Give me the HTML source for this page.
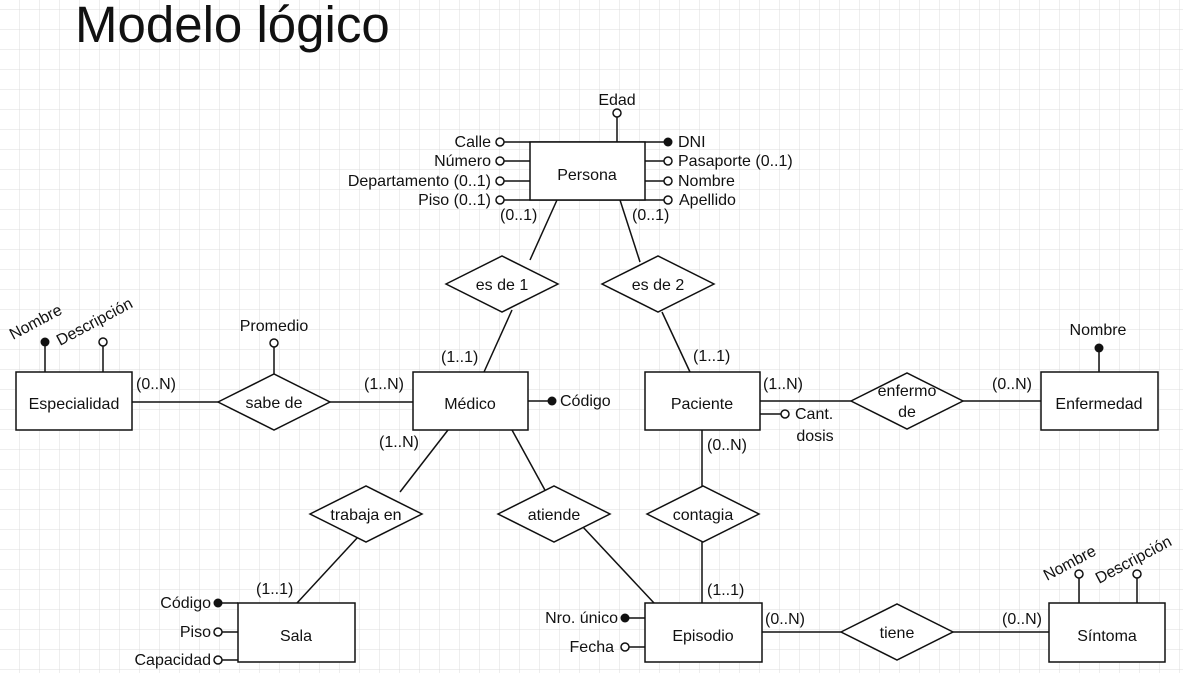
<!DOCTYPE html>
<html><head><meta charset="utf-8"><style>
html,body{margin:0;padding:0;background:#fff}
svg{display:block}
text{font-family:"Liberation Sans",Arial,sans-serif;font-size:16px;fill:#111}
</style></head><body>
<svg width="1183" height="673" xmlns="http://www.w3.org/2000/svg">
<defs>
<pattern id="g" width="20" height="20" patternUnits="userSpaceOnUse" y="10">
<path d="M20 0V20M0 20H20" fill="none" stroke="#dcdcdc" stroke-width="1"/>
</pattern>
</defs>
<rect width="1183" height="673" fill="url(#g)"/>
<text x="75" y="42" style="font-size:51px">Modelo lógico</text>

<g stroke="#111" stroke-width="1.5" fill="none">
<line x1="557" y1="200" x2="530" y2="260"/>
<line x1="512" y1="310" x2="484" y2="372"/>
<line x1="620" y1="200" x2="640" y2="262"/>
<line x1="662" y1="312" x2="690" y2="372"/>
<line x1="132" y1="402" x2="218" y2="402"/>
<line x1="330" y1="402" x2="413" y2="402"/>
<line x1="760" y1="401" x2="851" y2="401"/>
<line x1="963" y1="401" x2="1041" y2="401"/>
<line x1="448" y1="430" x2="400" y2="492"/>
<line x1="358" y1="537" x2="297" y2="603"/>
<line x1="512" y1="430" x2="546" y2="492"/>
<line x1="582" y1="526" x2="654" y2="603"/>
<line x1="702" y1="430" x2="702" y2="486"/>
<line x1="702" y1="542" x2="702" y2="603"/>
<line x1="762" y1="632" x2="841" y2="632"/>
<line x1="953" y1="632" x2="1049" y2="632"/>
<line x1="500" y1="142" x2="668" y2="142"/>
<line x1="617" y1="116" x2="617" y2="142"/>
<line x1="500" y1="161" x2="530" y2="161"/>
<line x1="500" y1="181" x2="530" y2="181"/>
<line x1="500" y1="200" x2="668" y2="200"/>
<line x1="645" y1="161" x2="668" y2="161"/>
<line x1="645" y1="181" x2="668" y2="181"/>
<line x1="45" y1="343" x2="45" y2="372"/>
<line x1="103" y1="343" x2="103" y2="372"/>
<line x1="274" y1="344" x2="274" y2="374"/>
<line x1="528" y1="401" x2="552" y2="401"/>
<line x1="760" y1="414" x2="784" y2="414"/>
<line x1="1099" y1="348" x2="1099" y2="372"/>
<line x1="219" y1="603" x2="238" y2="603"/>
<line x1="219" y1="632" x2="238" y2="632"/>
<line x1="219" y1="660" x2="238" y2="660"/>
<line x1="626" y1="618" x2="645" y2="618"/>
<line x1="626" y1="647" x2="645" y2="647"/>
<line x1="1079" y1="575" x2="1079" y2="603"/>
<line x1="1137" y1="575" x2="1137" y2="603"/>
</g>

<g stroke="#111" stroke-width="1.5" fill="#fff">
<rect x="530" y="142" width="115" height="58"/>
<rect x="16" y="372" width="116" height="58"/>
<rect x="413" y="372" width="115" height="58"/>
<rect x="645" y="372" width="115" height="58"/>
<rect x="1041" y="372" width="117" height="58"/>
<rect x="238" y="603" width="117" height="59"/>
<rect x="645" y="603" width="117" height="59"/>
<rect x="1049" y="603" width="116" height="59"/>
<polygon points="446,284 502,256 558,284 502,312"/>
<polygon points="602,284 658,256 714,284 658,312"/>
<polygon points="218,402 274,374 330,402 274,430"/>
<polygon points="851,401 907,373 963,401 907,429"/>
<polygon points="310,514 366,486 422,514 366,542"/>
<polygon points="498,514 554,486 610,514 554,542"/>
<polygon points="647,514 703,486 759,514 703,542"/>
<polygon points="841,632 897,604 953,632 897,660"/>
<circle cx="500" cy="142" r="4"/><circle cx="500" cy="161" r="4"/>
<circle cx="500" cy="181" r="4"/><circle cx="500" cy="200" r="4"/>
<circle cx="617" cy="113" r="4"/>
<circle cx="668" cy="161" r="4"/><circle cx="668" cy="181" r="4"/><circle cx="668" cy="200" r="4"/>
<circle cx="103" cy="342" r="4"/><circle cx="274" cy="343" r="4"/>
<circle cx="785" cy="414" r="4"/>
<circle cx="218" cy="632" r="4"/><circle cx="218" cy="660" r="4"/>
<circle cx="625" cy="647" r="4"/>
<circle cx="1079" cy="574" r="4"/><circle cx="1137" cy="574" r="4"/>
</g>
<g fill="#111">
<circle cx="668" cy="142" r="4.5"/><circle cx="45" cy="342" r="4.5"/>
<circle cx="552" cy="401" r="4.5"/><circle cx="1099" cy="348" r="4.5"/>
<circle cx="218" cy="603" r="4.5"/><circle cx="625" cy="618" r="4.5"/>
</g>

<g text-anchor="middle">
<text x="587" y="180">Persona</text>
<text x="74" y="409">Especialidad</text>
<text x="470" y="409">Médico</text>
<text x="702" y="409">Paciente</text>
<text x="1099" y="409">Enfermedad</text>
<text x="296" y="641">Sala</text>
<text x="703" y="641">Episodio</text>
<text x="1107" y="641">Síntoma</text>
<text x="502" y="290">es de 1</text>
<text x="658" y="290">es de 2</text>
<text x="274" y="408">sabe de</text>
<text x="907" y="396">enfermo</text>
<text x="907" y="417">de</text>
<text x="366" y="520">trabaja en</text>
<text x="554" y="520">atiende</text>
<text x="703" y="520">contagia</text>
<text x="897" y="638">tiene</text>
<text x="617" y="105">Edad</text>
<text x="274" y="331">Promedio</text>
<text x="1098" y="335">Nombre</text>
<text x="815" y="441">dosis</text>
</g>
<g text-anchor="end">
<text x="491" y="147">Calle</text>
<text x="491" y="166">Número</text>
<text x="491" y="186">Departamento (0..1)</text>
<text x="491" y="205">Piso (0..1)</text>
<text x="211" y="608">Código</text>
<text x="211" y="637">Piso</text>
<text x="211" y="665">Capacidad</text>
<text x="618" y="623">Nro. único</text>
<text x="614" y="652">Fecha</text>
</g>
<text x="678" y="147">DNI</text>
<text x="678" y="166">Pasaporte (0..1)</text>
<text x="678" y="186">Nombre</text>
<text x="679" y="205">Apellido</text>
<text x="560" y="406">Código</text>
<text x="795" y="419">Cant.</text>
<text x="500" y="220">(0..1)</text>
<text x="632" y="220">(0..1)</text>
<text x="136" y="389">(0..N)</text>
<text x="364" y="389">(1..N)</text>
<text x="441" y="362">(1..1)</text>
<text x="693" y="361">(1..1)</text>
<text x="763" y="389">(1..N)</text>
<text x="992" y="389">(0..N)</text>
<text x="379" y="447">(1..N)</text>
<text x="707" y="450">(0..N)</text>
<text x="256" y="594">(1..1)</text>
<text x="707" y="595">(1..1)</text>
<text x="765" y="624">(0..N)</text>
<text x="1002" y="624">(0..N)</text>
<text x="13" y="340" transform="rotate(-28 13 340)">Nombre</text>
<text x="60" y="346" transform="rotate(-28 60 346)">Descripción</text>
<text x="1047" y="581" transform="rotate(-28 1047 581)">Nombre</text>
<text x="1099" y="584" transform="rotate(-28 1099 584)">Descripción</text>
</svg>
</body></html>
